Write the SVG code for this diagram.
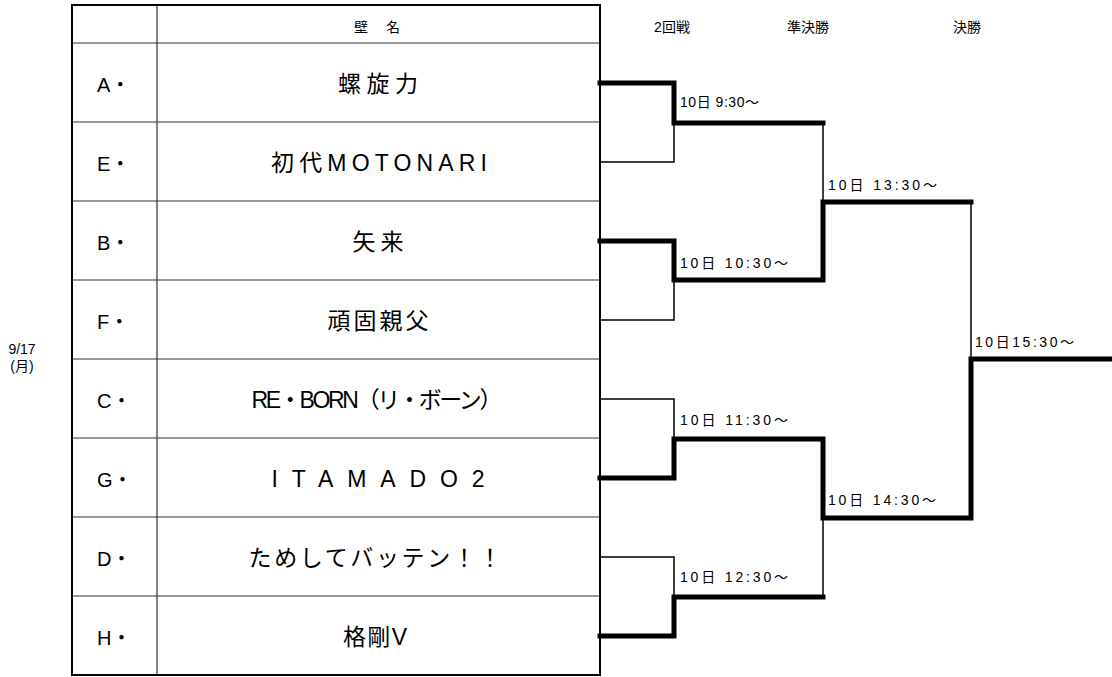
<svg xmlns="http://www.w3.org/2000/svg" width="1112" height="677" viewBox="0 0 1112 677">
<style>
text{font-family:"Liberation Sans","Noto Sans CJK JP",sans-serif;fill:#000}
.hd{font-size:14px;text-anchor:middle}
.lt{font-size:20px}
.nm{font-size:23px;text-anchor:middle}
.tm{font-size:14px}
.dt{font-size:14px;text-anchor:middle}
.grid{stroke:#333;stroke-width:1.2;fill:none}
.thick{stroke:#000;stroke-width:5;fill:none;stroke-linecap:square;stroke-linejoin:miter}
.thin{stroke:#000;stroke-width:1.5;fill:none}
</style>
<rect width="1112" height="677" fill="#fff"/>
<g id="table">
<path class="grid" d="M157,5V675M72,43H600M72,122H600M72,201H600M72,280H600M72,359H600M72,438H600M72,517H600M72,596H600"/>
<rect x="72" y="5" width="528" height="670" fill="none" stroke="#000" stroke-width="2"/>
<text class="hd" x="377" y="32" textLength="46" lengthAdjust="spacing">壁 名</text>
</g>
<g id="headers">
<text class="hd" x="672" y="32">2回戦</text>
<text class="hd" x="808" y="32">準決勝</text>
<text class="hd" x="967" y="32">決勝</text>
</g>
<g id="date">
<text class="dt" x="22" y="354">9/17</text>
<text class="dt" x="22" y="371">(月)</text>
</g>
<g id="row-A"><text class="lt" x="97" y="92">A・</text><text class="nm" x="378" y="92" textLength="80" lengthAdjust="spacing">螺旋力</text></g>
<g id="row-E"><text class="lt" x="97" y="171">E・</text><text class="nm" x="379" y="171" textLength="216" lengthAdjust="spacing">初代MOTONARI</text></g>
<g id="row-B"><text class="lt" x="97" y="250">B・</text><text class="nm" x="378" y="250" textLength="51" lengthAdjust="spacing">矢来</text></g>
<g id="row-F"><text class="lt" x="97" y="329">F・</text><text class="nm" x="378" y="329" textLength="101" lengthAdjust="spacing">頑固親父</text></g>
<g id="row-C"><text class="lt" x="97" y="408">C・</text><text class="nm" x="377" y="408" textLength="251" lengthAdjust="spacing">RE・BORN（リ・ボーン）</text></g>
<g id="row-G"><text class="lt" x="97" y="487">G・</text><text class="nm" x="378" y="487" textLength="213" lengthAdjust="spacing">ITAMADO2</text></g>
<g id="row-D"><text class="lt" x="97" y="566">D・</text><text class="nm" x="375" y="566" textLength="253" lengthAdjust="spacing">ためしてバッテン！！</text></g>
<g id="row-H"><text class="lt" x="97" y="645">H・</text><text class="nm" x="375" y="645" textLength="64" lengthAdjust="spacing">格剛V</text></g>
<g id="connectors">
<path class="thin" d="M600,162H674V123"/>
<path class="thin" d="M600,320H674V280"/>
<path class="thin" d="M600,399H674V439"/>
<path class="thin" d="M600,557H674V597"/>
<path class="thin" d="M823,123V202"/>
<path class="thin" d="M823,518V597"/>
<path class="thin" d="M971,202V359"/>
<path class="thick" d="M600,83H674V123H823"/>
<path class="thick" d="M600,241H674V280H823V202H971"/>
<path class="thick" d="M600,478H674V439H823V518H971V359H1112"/>
<path class="thick" d="M600,636H674V597H823"/>
</g>
<g id="labels">
<text class="tm" x="680" y="107" textLength="79" lengthAdjust="spacing">10日 9:30～</text>
<text class="tm" x="828" y="190" textLength="109" lengthAdjust="spacing">10日 13:30～</text>
<text class="tm" x="680" y="268" textLength="108" lengthAdjust="spacing">10日 10:30～</text>
<text class="tm" x="975" y="347" textLength="99" lengthAdjust="spacing">10日15:30～</text>
<text class="tm" x="680" y="425" textLength="108" lengthAdjust="spacing">10日 11:30～</text>
<text class="tm" x="828" y="505" textLength="108" lengthAdjust="spacing">10日 14:30～</text>
<text class="tm" x="680" y="582" textLength="108" lengthAdjust="spacing">10日 12:30～</text>
</g>
</svg>
